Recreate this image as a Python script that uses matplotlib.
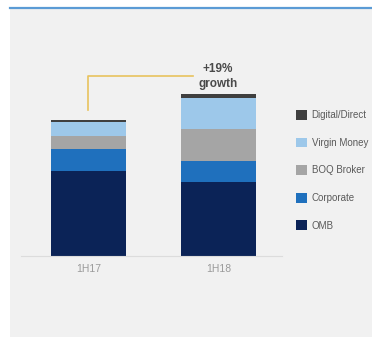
import matplotlib.pyplot as plt
from matplotlib.patches import Rectangle
from matplotlib.lines import Line2D
from matplotlib import font_manager
import numpy as np

# data (arbitrary units)
periods = ['1H17', '1H18']
segments = ['OMB', 'Corporate', 'BOQ Broker', 'Virgin Money', 'Digital/Direct']
omb = [85.3, 73.7]
corporate = [21.7, 21.3]
boq_broker = [13.0, 32.0]
virgin_money = [14.5, 31.5]
digital_direct = [1.5, 3.5]

colors = ['#0b2357', '#1f70bd', '#a5a5a5', '#9dc8ea', '#3f3f3f']

# narrow font if there is one
names = {f.name for f in font_manager.fontManager.ttflist}
narrow = [n for n in ['Liberation Sans Narrow', 'DejaVu Sans Condensed'] if n in names]
fam = (narrow or ['Liberation Sans']) + ['DejaVu Sans']

W, H = 372, 337
fig = plt.figure(figsize=(W / 100, H / 100), dpi=100)
fig.patch.set_facecolor('white')

# gray panel and blue rule at the top
fig.patches.append(Rectangle((10 / W, 0), 1 - 10 / W, 1 - 8 / H,
                             transform=fig.transFigure, facecolor='#f1f1f1',
                             edgecolor='none', zorder=-5))
fig.lines.append(Line2D([10 / W, 1], [1 - 7.5 / H, 1 - 7.5 / H],
                        transform=fig.transFigure, color='#5b9bd5', lw=1.6))

ax = fig.add_axes([21 / W, 1 - 256 / H, 261 / W, 196 / H])
ax.set_facecolor('none')
ax.set_xlim(-0.517, 1.483)
ax.set_ylim(0, 196)

series = [omb, corporate, boq_broker, virgin_money, digital_direct]
x = np.arange(len(periods))
bottom = np.zeros(len(periods))
handles = []
for name, vals, c in zip(segments, series, colors):
    b = ax.bar(x, vals, 0.575, bottom=bottom, color=c, label=name, zorder=2)
    handles.append(b)
    bottom += np.array(vals)

totals = bottom
growth = round((totals[1] / totals[0] - 1) * 100)

# growth connector
y_top = totals[1] + 18
ax.plot([x[0], x[0], 0.80], [totals[0] + 10, y_top, y_top],
        color='#e8c35e', lw=1.2, zorder=3, clip_on=False)
ax.text(0.99, totals[1] + 4, f'+{growth}%\ngrowth', ha='center', va='bottom',
        fontsize=8.5, fontweight='bold', color='#4a4a4a', linespacing=1.3,
        family=fam)

for s in ['top', 'right', 'left']:
    ax.spines[s].set_visible(False)
ax.spines['bottom'].set_color('#dcdcdc')
ax.spines['bottom'].set_linewidth(0.8)
ax.set_yticks([])
ax.set_xticks(x)
ax.set_xticklabels(periods, color='#9a9a9a', fontsize=7.5, family=fam)
ax.tick_params(axis='x', length=0, pad=6)

leg = fig.legend(handles[::-1], segments[::-1], loc='upper left',
                 bbox_to_anchor=(296 / W, 1 - 110 / H), frameon=False,
                 handlelength=1.15, handleheight=1.15, handletextpad=0.45,
                 labelspacing=1.8, borderaxespad=0, borderpad=0,
                 prop={'family': fam, 'size': 7})
for t in leg.get_texts():
    t.set_color('#5a5a5a')

fig.savefig('out.png', dpi=100, facecolor='white')
